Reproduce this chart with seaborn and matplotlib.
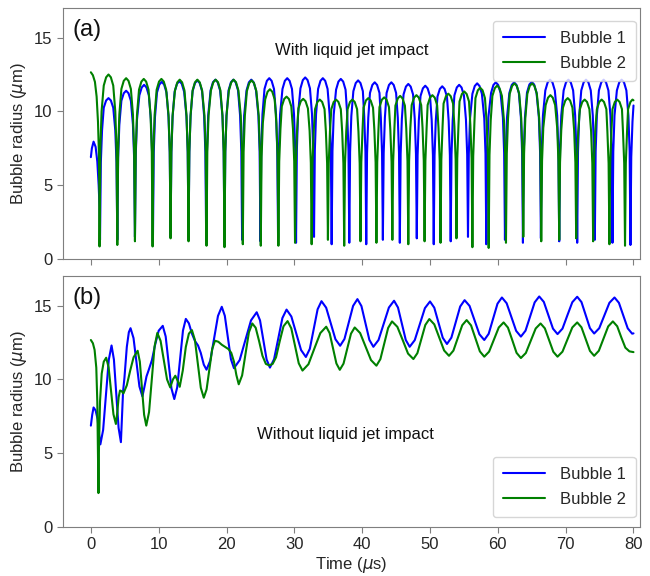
import matplotlib
matplotlib.use("Agg")
import matplotlib.pyplot as plt
import pandas as pd
import seaborn as sns

# Panel (a): with liquid jet impact, (time in us, radius in um)
# one row per collapse/rebound arch
bubble1_jet = [
    (0.0, 6.9), (0.15, 7.5), (0.4, 7.95), (0.7, 7.6), (0.95, 6.6), (1.15, 5.0), (1.28, 3.5),
    (1.35, 1.3), (1.47, 6.54), (1.65, 8.72), (1.9, 10.25), (2.25, 10.74), (2.6, 10.9), (2.95, 10.74), (3.3, 10.25), (3.6, 8.72), (3.78, 6.54),
    (3.9, 1.3), (4.02, 6.84), (4.2, 9.12), (4.5, 10.72), (4.85, 11.23), (5.2, 11.4), (5.55, 11.23), (5.9, 10.72), (6.2, 9.12), (6.38, 6.84),
    (6.5, 1.5), (6.62, 7.08), (6.8, 9.44), (7.15, 11.09), (7.5, 11.62), (7.85, 11.8), (8.2, 11.62), (8.55, 11.09), (8.85, 9.44), (9.03, 7.08),
    (9.15, 1.2), (9.27, 7.2), (9.45, 9.6), (9.75, 11.28), (10.1, 11.82), (10.45, 12.0), (10.8, 11.82), (11.15, 11.28), (11.45, 9.6), (11.63, 7.2),
    (11.75, 1.5), (11.87, 7.23), (12.05, 9.64), (12.35, 11.33), (12.7, 11.87), (13.05, 12.05), (13.4, 11.87), (13.75, 11.33), (14.1, 9.64), (14.28, 7.23),
    (14.4, 1.35), (14.52, 7.26), (14.7, 9.68), (15.0, 11.37), (15.35, 11.92), (15.7, 12.1), (16.05, 11.92), (16.4, 11.37), (16.7, 9.68), (16.88, 7.26),
    (17.0, 1.4), (17.12, 7.29), (17.3, 9.72), (17.65, 11.42), (18.0, 11.97), (18.35, 12.15), (18.7, 11.97), (19.05, 11.42), (19.4, 9.72), (19.58, 7.29),
    (19.7, 1.1), (19.82, 7.29), (20.0, 9.72), (20.3, 11.42), (20.65, 11.97), (21.0, 12.15), (21.35, 11.97), (21.7, 11.42), (22.0, 9.72), (22.18, 7.29),
    (22.3, 1.3), (22.42, 7.29), (22.6, 9.72), (22.95, 11.42), (23.3, 11.97), (23.65, 12.15), (24.0, 11.97), (24.35, 11.42), (24.7, 9.72), (24.88, 7.29),
    (25.0, 1.2), (25.12, 7.35), (25.3, 9.8), (25.6, 11.52), (25.95, 12.07), (26.3, 12.25), (26.65, 12.07), (27.0, 11.52), (27.3, 9.8), (27.48, 7.35),
    (27.6, 1.4), (27.72, 7.35), (27.9, 9.8), (28.25, 11.52), (28.6, 12.07), (28.95, 12.25), (29.3, 12.07), (29.65, 11.52), (29.95, 9.8), (30.13, 7.35),
    (30.25, 1.1), (30.37, 7.38), (30.55, 9.84), (30.9, 11.56), (31.25, 12.12), (31.6, 12.3), (31.95, 12.12), (32.3, 11.56), (32.6, 9.84), (32.78, 7.38),
    (32.9, 1.5), (33.02, 7.35), (33.2, 9.8), (33.5, 11.52), (33.85, 12.07), (34.2, 12.25), (34.55, 12.07), (34.9, 11.52), (35.2, 9.8), (35.38, 7.35),
    (35.5, 1.0), (35.62, 7.32), (35.8, 9.76), (36.15, 11.47), (36.5, 12.02), (36.85, 12.2), (37.2, 12.02), (37.55, 11.47), (37.8, 9.76), (37.98, 7.32),
    (38.1, 1.1), (38.22, 7.26), (38.4, 9.68), (38.7, 11.37), (39.05, 11.92), (39.4, 12.1), (39.75, 11.92), (40.1, 11.37), (40.3, 9.68), (40.48, 7.26),
    (40.6, 1.0), (40.72, 7.18), (40.9, 9.58), (41.15, 11.25), (41.5, 11.79), (41.85, 11.97), (42.2, 11.79), (42.55, 11.25), (42.75, 9.58), (42.93, 7.18),
    (43.05, 1.3), (43.17, 7.18), (43.35, 9.58), (43.6, 11.25), (43.95, 11.79), (44.3, 11.97), (44.65, 11.79), (45.0, 11.25), (45.25, 9.58), (45.43, 7.18),
    (45.55, 1.1), (45.67, 7.12), (45.85, 9.49), (46.1, 11.15), (46.45, 11.68), (46.8, 11.86), (47.15, 11.68), (47.5, 11.15), (47.75, 9.49), (47.93, 7.12),
    (48.05, 1.4), (48.17, 7.04), (48.35, 9.39), (48.6, 11.04), (48.95, 11.56), (49.3, 11.74), (49.65, 11.56), (50.0, 11.04), (50.25, 9.39), (50.43, 7.04),
    (50.55, 1.0), (50.67, 7.02), (50.85, 9.36), (51.1, 11.0), (51.45, 11.52), (51.8, 11.7), (52.15, 11.52), (52.5, 11.0), (52.75, 9.36), (52.93, 7.02),
    (53.05, 1.2), (53.17, 7.08), (53.35, 9.44), (53.6, 11.09), (53.95, 11.62), (54.3, 11.8), (54.65, 11.62), (55.0, 11.09), (55.3, 9.44), (55.48, 7.08),
    (55.6, 1.5), (55.72, 7.14), (55.9, 9.52), (56.25, 11.19), (56.6, 11.72), (56.95, 11.9), (57.3, 11.72), (57.65, 11.19), (58.0, 9.52), (58.18, 7.14),
    (58.3, 1.0), (58.42, 7.18), (58.6, 9.58), (59.0, 11.25), (59.35, 11.79), (59.7, 11.97), (60.05, 11.79), (60.4, 11.25), (60.75, 9.58), (60.93, 7.18),
    (61.05, 1.3), (61.17, 7.18), (61.35, 9.58), (61.7, 11.25), (62.05, 11.79), (62.4, 11.97), (62.75, 11.79), (63.1, 11.25), (63.4, 9.58), (63.58, 7.18),
    (63.7, 1.1), (63.82, 7.2), (64.0, 9.6), (64.3, 11.28), (64.65, 11.82), (65.0, 12.0), (65.35, 11.82), (65.7, 11.28), (66.05, 9.6), (66.23, 7.2),
    (66.35, 1.4), (66.47, 7.29), (66.65, 9.72), (67.0, 11.42), (67.35, 11.97), (67.7, 12.15), (68.05, 11.97), (68.4, 11.42), (68.75, 9.72), (68.93, 7.29),
    (69.05, 1.2), (69.17, 7.29), (69.35, 9.72), (69.7, 11.42), (70.05, 11.97), (70.4, 12.15), (70.75, 11.97), (71.1, 11.42), (71.4, 9.72), (71.58, 7.29),
    (71.7, 1.1), (71.82, 7.29), (72.0, 9.72), (72.3, 11.42), (72.65, 11.97), (73.0, 12.15), (73.35, 11.97), (73.7, 11.42), (74.0, 9.72), (74.18, 7.29),
    (74.3, 1.3), (74.42, 7.29), (74.6, 9.72), (74.9, 11.42), (75.25, 11.97), (75.6, 12.15), (75.95, 11.97), (76.3, 11.42), (76.6, 9.72), (76.78, 7.29),
    (76.9, 1.1), (77.02, 7.29), (77.2, 9.72), (77.55, 11.42), (77.9, 11.97), (78.25, 12.15), (78.6, 11.97), (78.95, 11.42), (79.25, 9.72), (79.43, 7.29),
    (79.55, 0.95), (79.67, 6.9), (79.85, 9.3), (80.0, 10.4),
]

bubble2_jet = [
    (0.0, 12.65), (0.3, 12.45), (0.6, 12.0), (0.85, 11.0), (1.05, 9.3), (1.18, 7.3), (1.25, 4.5),
    (1.28, 0.85), (1.4, 7.5), (1.58, 10.0), (1.9, 11.75), (2.25, 12.31), (2.6, 12.5), (2.95, 12.31), (3.3, 11.75), (3.6, 10.0), (3.78, 7.5),
    (3.9, 0.95), (4.02, 7.35), (4.2, 9.8), (4.5, 11.52), (4.85, 12.07), (5.2, 12.25), (5.55, 12.07), (5.9, 11.52), (6.2, 9.8), (6.38, 7.35),
    (6.5, 1.2), (6.62, 7.32), (6.8, 9.76), (7.1, 11.47), (7.45, 12.02), (7.8, 12.2), (8.15, 12.02), (8.5, 11.47), (8.8, 9.76), (8.98, 7.32),
    (9.1, 0.85), (9.22, 7.32), (9.4, 9.76), (9.7, 11.47), (10.05, 12.02), (10.4, 12.2), (10.75, 12.02), (11.1, 11.47), (11.45, 9.76), (11.63, 7.32),
    (11.75, 1.4), (11.87, 7.29), (12.05, 9.72), (12.4, 11.42), (12.75, 11.97), (13.1, 12.15), (13.45, 11.97), (13.8, 11.42), (14.1, 9.72), (14.28, 7.29),
    (14.4, 1.2), (14.52, 7.29), (14.7, 9.72), (15.0, 11.42), (15.35, 11.97), (15.7, 12.15), (16.05, 11.97), (16.4, 11.42), (16.75, 9.72), (16.93, 7.29),
    (17.05, 0.9), (17.17, 7.29), (17.35, 9.72), (17.7, 11.42), (18.05, 11.97), (18.4, 12.15), (18.75, 11.97), (19.1, 11.42), (19.4, 9.72), (19.58, 7.29),
    (19.7, 0.8), (19.82, 7.29), (20.0, 9.72), (20.35, 11.42), (20.7, 11.97), (21.05, 12.15), (21.4, 11.97), (21.75, 11.42), (22.1, 9.72), (22.28, 7.29),
    (22.4, 1.0), (22.52, 7.26), (22.7, 9.68), (23.0, 11.37), (23.35, 11.92), (23.7, 12.1), (24.05, 11.92), (24.4, 11.37), (24.75, 9.68), (24.93, 7.26),
    (25.05, 0.9), (25.17, 6.9), (25.35, 9.2), (25.7, 10.81), (26.05, 11.33), (26.4, 11.5), (26.75, 11.33), (27.1, 10.81), (27.35, 9.2), (27.53, 6.9),
    (27.65, 0.9), (27.77, 6.6), (27.95, 8.8), (28.15, 10.34), (28.5, 10.84), (28.85, 11.0), (29.2, 10.84), (29.55, 10.34), (29.8, 8.8), (29.98, 6.6),
    (30.1, 1.1), (30.22, 6.51), (30.4, 8.68), (30.6, 10.2), (30.95, 10.69), (31.3, 10.85), (31.65, 10.69), (32.0, 10.2), (32.25, 8.68), (32.43, 6.51),
    (32.55, 1.0), (32.67, 6.48), (32.85, 8.64), (33.05, 10.15), (33.4, 10.64), (33.75, 10.8), (34.1, 10.64), (34.45, 10.15), (34.65, 8.64), (34.83, 6.48),
    (34.95, 1.3), (35.07, 6.48), (35.25, 8.64), (35.45, 10.15), (35.8, 10.64), (36.15, 10.8), (36.5, 10.64), (36.85, 10.15), (37.05, 8.64), (37.23, 6.48),
    (37.35, 0.9), (37.47, 6.48), (37.65, 8.64), (37.85, 10.15), (38.2, 10.64), (38.55, 10.8), (38.9, 10.64), (39.25, 10.15), (39.45, 8.64), (39.63, 6.48),
    (39.75, 1.2), (39.87, 6.54), (40.05, 8.72), (40.2, 10.25), (40.55, 10.74), (40.9, 10.9), (41.25, 10.74), (41.6, 10.25), (41.8, 8.72), (41.98, 6.54),
    (42.1, 1.1), (42.22, 6.57), (42.4, 8.76), (42.55, 10.29), (42.9, 10.79), (43.25, 10.95), (43.6, 10.79), (43.95, 10.29), (44.15, 8.76), (44.33, 6.57),
    (44.45, 1.3), (44.57, 6.63), (44.75, 8.84), (44.9, 10.39), (45.25, 10.88), (45.6, 11.05), (45.95, 10.88), (46.3, 10.39), (46.5, 8.84), (46.68, 6.63),
    (46.8, 1.0), (46.92, 6.66), (47.1, 8.88), (47.3, 10.43), (47.65, 10.93), (48.0, 11.1), (48.35, 10.93), (48.7, 10.43), (48.9, 8.88), (49.08, 6.66),
    (49.2, 1.2), (49.32, 6.66), (49.5, 8.88), (49.65, 10.43), (50.0, 10.93), (50.35, 11.1), (50.7, 10.93), (51.05, 10.43), (51.25, 8.88), (51.43, 6.66),
    (51.55, 1.1), (51.67, 6.72), (51.85, 8.96), (52.0, 10.53), (52.35, 11.03), (52.7, 11.2), (53.05, 11.03), (53.4, 10.53), (53.6, 8.96), (53.78, 6.72),
    (53.9, 1.4), (54.02, 6.81), (54.2, 9.08), (54.35, 10.67), (54.7, 11.18), (55.05, 11.35), (55.4, 11.18), (55.75, 10.67), (55.95, 9.08), (56.13, 6.81),
    (56.25, 0.8), (56.37, 6.96), (56.55, 9.28), (56.7, 10.9), (57.05, 11.43), (57.4, 11.6), (57.75, 11.43), (58.1, 10.9), (58.35, 9.28), (58.53, 6.96),
    (58.65, 0.75), (58.77, 7.05), (58.95, 9.4), (59.2, 11.05), (59.55, 11.57), (59.9, 11.75), (60.25, 11.57), (60.6, 11.05), (60.9, 9.4), (61.08, 7.05),
    (61.2, 1.1), (61.32, 7.14), (61.5, 9.52), (61.75, 11.19), (62.1, 11.72), (62.45, 11.9), (62.8, 11.72), (63.15, 11.19), (63.45, 9.52), (63.63, 7.14),
    (63.75, 1.5), (63.87, 7.14), (64.05, 9.52), (64.35, 11.19), (64.7, 11.72), (65.05, 11.9), (65.4, 11.72), (65.75, 11.19), (66.1, 9.52), (66.28, 7.14),
    (66.4, 1.2), (66.52, 6.66), (66.7, 8.88), (67.05, 10.43), (67.4, 10.93), (67.75, 11.1), (68.1, 10.93), (68.45, 10.43), (68.75, 8.88), (68.93, 6.66),
    (69.05, 1.3), (69.17, 6.54), (69.35, 8.72), (69.6, 10.25), (69.95, 10.74), (70.3, 10.9), (70.65, 10.74), (71.0, 10.25), (71.25, 8.72), (71.43, 6.54),
    (71.55, 1.4), (71.67, 6.48), (71.85, 8.64), (72.1, 10.15), (72.45, 10.64), (72.8, 10.8), (73.15, 10.64), (73.5, 10.15), (73.75, 8.64), (73.93, 6.48),
    (74.05, 1.2), (74.17, 6.48), (74.35, 8.64), (74.6, 10.15), (74.95, 10.64), (75.3, 10.8), (75.65, 10.64), (76.0, 10.15), (76.15, 8.64), (76.33, 6.48),
    (76.45, 1.0), (76.57, 6.48), (76.75, 8.64), (76.9, 10.15), (77.25, 10.64), (77.6, 10.8), (77.95, 10.64), (78.3, 10.15), (78.45, 8.64), (78.63, 6.48),
    (78.75, 0.9), (78.87, 6.48), (79.05, 8.64), (79.2, 10.15), (79.55, 10.64), (79.85, 10.8), (80.0, 10.75),
]

# Panel (b): without liquid jet impact
bubble1_nojet = [
    (0.0, 6.87), (0.2, 7.6), (0.4, 8.1), (0.7, 7.9), (1.0, 7.3), (1.2, 6.3), (1.4, 5.6),
    (1.81, 6.58), (2.23, 8.95), (2.64, 11.32), (3.05, 12.3),
    (3.4, 11.34), (3.74, 9.03), (4.09, 6.71), (4.43, 5.75),
    (4.55, 7.0), (4.75, 9.2), (4.95, 10.1), (5.3, 12.2), (5.6, 13.2), (5.85, 13.47),
    (6.29, 12.8), (6.73, 11.16), (7.16, 9.52), (7.6, 8.85),
    (7.9, 9.5), (8.2, 10.2), (8.5, 10.6), (9.0, 11.3), (9.5, 12.4), (10.0, 13.3), (10.6, 13.63),
    (11.03, 12.91), (11.45, 11.15), (11.88, 9.39), (12.3, 8.67),
    (12.73, 9.46), (13.15, 11.39), (13.58, 13.31), (14.0, 14.1),
    (14.45, 13.8), (14.9, 13.1), (15.35, 12.6), (15.8, 12.3), (16.2, 11.8), (16.65, 11.0), (17.05, 10.66),
    (17.61, 11.28), (18.18, 12.79), (18.74, 14.3), (19.3, 14.92),
    (19.75, 14.31), (20.2, 12.84), (20.65, 11.37), (21.1, 10.76),
    (21.94, 11.31), (22.78, 12.66), (23.61, 14.0), (24.45, 14.55),
    (24.94, 14.0), (25.43, 12.68), (25.91, 11.35), (26.4, 10.8),
    (27.01, 11.37), (27.63, 12.77), (28.24, 14.16), (28.85, 14.73),
    (29.56, 14.26), (30.28, 13.13), (30.99, 11.99), (31.7, 11.52),
    (32.28, 12.07), (32.85, 13.41), (33.43, 14.75), (34.0, 15.3),
    (34.69, 14.86), (35.38, 13.79), (36.06, 12.72), (36.75, 12.28),
    (37.39, 12.74), (38.03, 13.86), (38.66, 14.98), (39.3, 15.44),
    (39.89, 14.97), (40.48, 13.83), (41.06, 12.68), (41.65, 12.21),
    (42.41, 12.67), (43.18, 13.77), (43.94, 14.87), (44.7, 15.33),
    (45.28, 14.87), (45.85, 13.77), (46.43, 12.67), (47.0, 12.21),
    (47.75, 12.66), (48.5, 13.75), (49.25, 14.83), (50.0, 15.28),
    (50.63, 14.86), (51.25, 13.84), (51.88, 12.82), (52.5, 12.4),
    (53.15, 12.83), (53.8, 13.89), (54.45, 14.94), (55.1, 15.37),
    (55.83, 14.98), (56.55, 14.02), (57.28, 13.06), (58.0, 12.67),
    (58.65, 13.09), (59.3, 14.11), (59.95, 15.13), (60.6, 15.55),
    (61.3, 15.16), (62.0, 14.23), (62.7, 13.29), (63.4, 12.9),
    (64.08, 13.3), (64.75, 14.26), (65.43, 15.22), (66.1, 15.62),
    (66.78, 15.25), (67.45, 14.35), (68.13, 13.44), (68.8, 13.07),
    (69.53, 13.44), (70.25, 14.34), (70.98, 15.23), (71.7, 15.6),
    (72.33, 15.24), (72.95, 14.36), (73.58, 13.47), (74.2, 13.11),
    (74.95, 13.47), (75.7, 14.33), (76.45, 15.19), (77.2, 15.55),
    (77.85, 15.19), (78.5, 14.33), (79.15, 13.46), (79.8, 13.1), (80.0, 13.12),
]

bubble2_nojet = [
    (0.0, 12.67), (0.3, 12.45), (0.55, 12.0), (0.8, 10.8), (0.95, 8.5), (1.05, 5.0),
    (1.12, 2.3), (1.2, 5.5), (1.35, 8.5), (1.6, 10.4), (1.9, 11.2), (2.26, 11.47),
    (2.62, 10.81), (2.98, 9.23), (3.33, 7.64), (3.69, 6.98),
    (3.9, 7.8), (4.1, 8.8), (4.3, 9.25), (4.55, 9.2), (4.8, 9.05),
    (5.3, 9.6), (5.8, 10.6), (6.3, 11.5), (6.9, 11.94),
    (7.22, 11.2), (7.54, 9.41), (7.85, 7.61), (8.17, 6.87),
    (8.58, 7.79), (8.99, 10.01), (9.39, 12.23), (9.8, 13.15),
    (10.28, 12.61), (10.75, 11.31), (11.23, 10.0), (11.7, 9.46),
    (12.1, 10.0), (12.45, 10.25), (12.8, 9.9), (13.1, 9.5),
    (13.55, 10.6), (14.0, 12.2), (14.45, 13.1), (14.9, 13.34),
    (15.34, 12.67), (15.78, 11.05), (16.21, 9.43), (16.65, 8.76),
    (17.06, 9.32), (17.48, 10.69), (17.89, 12.06), (18.3, 12.62),
    (18.8, 12.55), (19.3, 12.35), (19.8, 12.2), (20.3, 12.05),
    (20.7, 11.8), (21.1, 11.2), (21.45, 10.3), (21.8, 9.67),
    (22.3, 10.27), (22.8, 11.73), (23.3, 13.19), (23.8, 13.79),
    (24.3, 13.5), (24.8, 12.6), (25.3, 11.6), (25.8, 11.05), (26.3, 10.95), (26.8, 11.05),
    (27.3, 11.5), (27.85, 12.6), (28.4, 13.6), (29.0, 13.95),
    (29.55, 13.46), (30.1, 12.28), (30.65, 11.09), (31.2, 10.6),
    (32.08, 11.03), (32.95, 12.09), (33.83, 13.14), (34.7, 13.57),
    (35.2, 13.14), (35.7, 12.11), (36.2, 11.08), (36.7, 10.65),
    (37.25, 11.07), (37.8, 12.09), (38.35, 13.1), (38.9, 13.52),
    (39.7, 13.14), (40.5, 12.23), (41.3, 11.31), (42.1, 10.93),
    (42.68, 11.37), (43.25, 12.43), (43.83, 13.49), (44.4, 13.93),
    (45.19, 13.56), (45.98, 12.66), (46.76, 11.75), (47.55, 11.38),
    (48.14, 11.78), (48.73, 12.74), (49.31, 13.69), (49.9, 14.09),
    (50.63, 13.73), (51.35, 12.85), (52.08, 11.96), (52.8, 11.6),
    (53.45, 11.95), (54.1, 12.81), (54.75, 13.67), (55.4, 14.02),
    (56.05, 13.66), (56.7, 12.78), (57.35, 11.9), (58.0, 11.54),
    (58.71, 11.88), (59.43, 12.7), (60.14, 13.52), (60.85, 13.86),
    (61.49, 13.51), (62.13, 12.66), (62.76, 11.8), (63.4, 11.45),
    (64.13, 11.79), (64.85, 12.62), (65.58, 13.45), (66.3, 13.79),
    (66.93, 13.46), (67.55, 12.67), (68.18, 11.87), (68.8, 11.54),
    (69.53, 11.88), (70.25, 12.7), (70.98, 13.52), (71.7, 13.86),
    (72.33, 13.53), (72.95, 12.73), (73.58, 11.93), (74.2, 11.6),
    (74.89, 11.94), (75.58, 12.77), (76.27, 13.59), (76.96, 13.93),
    (77.6, 13.6), (78.2, 12.85), (78.8, 12.15), (79.4, 11.9), (80.0, 11.85),
]

labels = ['Bubble 1', 'Bubble 2']
colors = {'Bubble 1': 'blue', 'Bubble 2': 'green'}
x_ticks = [0, 10, 20, 30, 40, 50, 60, 70, 80]
y_ticks = [0, 5, 10, 15]


def to_frame(pts1, pts2):
    rows = []
    for name, pts in zip(labels, [pts1, pts2]):
        for t, r in pts:
            rows.append({'time': t, 'radius': r, 'bubble': name})
    return pd.DataFrame(rows)


sns.set_style("ticks")
plt.rcParams['font.family'] = ['Liberation Sans', 'DejaVu Sans']
plt.rcParams['axes.edgecolor'] = '#7f7f7f'
plt.rcParams['xtick.color'] = '#7f7f7f'
plt.rcParams['ytick.color'] = '#7f7f7f'
plt.rcParams['xtick.labelcolor'] = '#262626'
plt.rcParams['ytick.labelcolor'] = '#262626'

fig, (ax_a, ax_b) = plt.subplots(2, 1, figsize=(6.5, 5.76), dpi=100, sharex=True)
fig.subplots_adjust(left=0.097, right=0.984, top=0.986, bottom=0.085, hspace=0.068)

panels = [
    (ax_a, bubble1_jet, bubble2_jet, '(a)', 'With liquid jet impact', (0.5, 0.83),
     'upper right', (0.993, 0.95)),
    (ax_b, bubble1_nojet, bubble2_nojet, '(b)', 'Without liquid jet impact', (0.49, 0.37),
     'lower right', (0.993, 0.04)),
]

for ax, p1, p2, tag, note, note_xy, leg_loc, leg_anchor in panels:
    df = to_frame(p1, p2)
    sns.lineplot(data=df, x='time', y='radius', hue='bubble', palette=colors,
                 estimator=None, sort=False, linewidth=1.5, ax=ax)
    ax.set_xlim(-4.1, 80.9)
    ax.set_ylim(0, 17)
    ax.set_xticks(x_ticks)
    ax.set_yticks(y_ticks)
    ax.tick_params(labelsize=12, length=4)
    ax.set_ylabel(r'Bubble radius ($\mu$m)', fontsize=12)
    ax.text(0.016, 0.955, tag, transform=ax.transAxes, fontsize=17, va='top', color='#111111')
    ax.text(note_xy[0], note_xy[1], note, transform=ax.transAxes, fontsize=12,
            ha='center', va='center', color='#111111')
    sns.move_legend(ax, leg_loc, bbox_to_anchor=leg_anchor, borderaxespad=0,
                    title=None, fontsize=12, frameon=True, handlelength=2.5,
                    handletextpad=0.9, borderpad=0.6, labelspacing=0.6)

ax_a.set_xlabel('')
ax_b.set_xlabel(r'Time ($\mu$s)', fontsize=12, labelpad=2)

fig.savefig('out.png', dpi=100)
